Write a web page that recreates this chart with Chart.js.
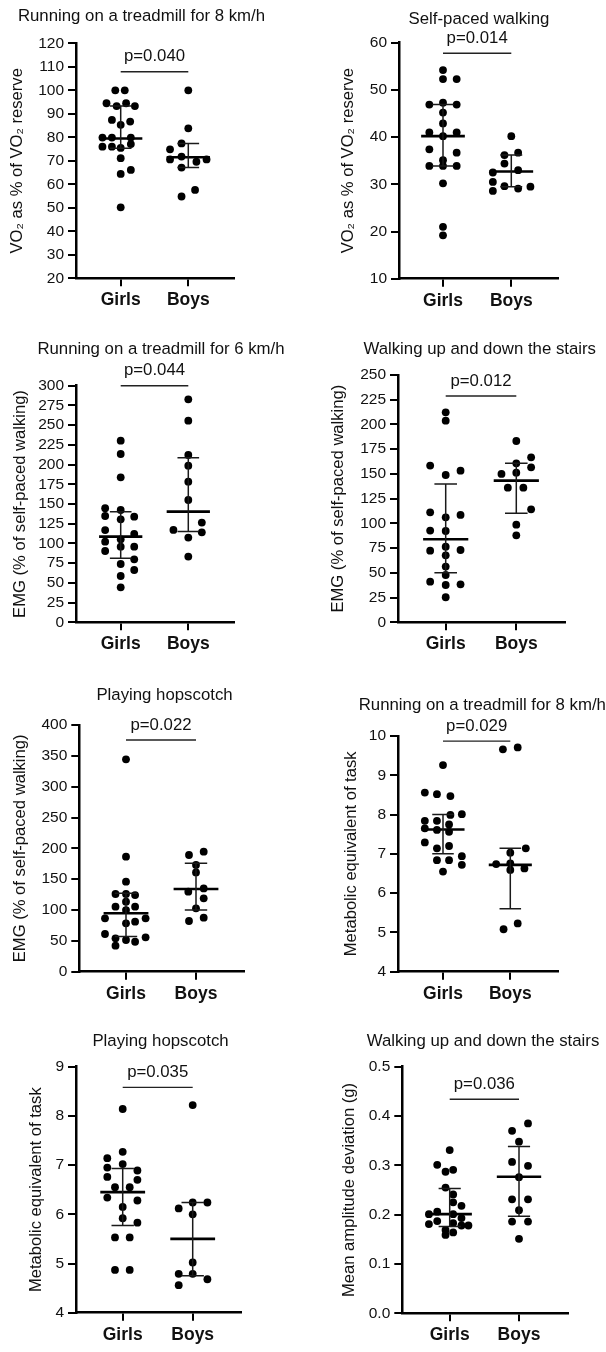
<!DOCTYPE html>
<html>
<head>
<meta charset="utf-8">
<script src="https://cdn.jsdelivr.net/npm/chart.js@4.4.1/dist/chart.umd.min.js"></script>
<style>
html,body{margin:0;padding:0;background:#fff;}
body{width:606px;height:1352px;position:relative;overflow:hidden;}
canvas{position:absolute;}
</style>
</head>
<body>
<canvas id="c1"></canvas><canvas id="c2"></canvas>
<canvas id="c3"></canvas><canvas id="c4"></canvas>
<canvas id="c5"></canvas><canvas id="c6"></canvas>
<canvas id="c7"></canvas><canvas id="c8"></canvas>
<script>
// ---------------- DATA ----------------
const categories = ['Girls', 'Boys'];

const panelTitles = [
  'Running on a treadmill for 8 km/h', 'Self-paced walking',
  'Running on a treadmill for 6 km/h', 'Walking up and down the stairs',
  'Playing hopscotch', 'Running on a treadmill for 8 km/h',
  'Playing hopscotch', 'Walking up and down the stairs'
];
const yTitles = [
  'VO\u2082 as % of VO\u2082 reserve', 'VO\u2082 as % of VO\u2082 reserve',
  'EMG (% of self-paced walking)', 'EMG (% of self-paced walking)',
  'EMG (% of self-paced walking)', 'Metabolic equivalent of task',
  'Metabolic equivalent of task', 'Mean amplitude deviation (g)'
];
const pTexts = ['p=0.040', 'p=0.014', 'p=0.044', 'p=0.012', 'p=0.022', 'p=0.029', 'p=0.035', 'p=0.036'];
const bracketY = [107.9, 57.75, 300, 228.8, 375.7, 9.87, 8.58, 0.434];

// y tick values per panel
const p1Ticks = [20, 30, 40, 50, 60, 70, 80, 90, 100, 110, 120];
const p2Ticks = [10, 20, 30, 40, 50, 60];
const p3Ticks = [0, 25, 50, 75, 100, 125, 150, 175, 200, 225, 250, 275, 300];
const p4Ticks = [0, 25, 50, 75, 100, 125, 150, 175, 200, 225, 250];
const p5Ticks = [0, 50, 100, 150, 200, 250, 300, 350, 400];
const p6Ticks = [4, 5, 6, 7, 8, 9, 10];
const p7Ticks = [4, 5, 6, 7, 8, 9];
const p8Ticks = [0.0, 0.1, 0.2, 0.3, 0.4, 0.5];
const tickDecimals = [0, 0, 0, 0, 0, 0, 0, 1];

// individual values (Y) and horizontal jitter (DX, in category units)
const p1GirlsY  = [100, 100, 94.5, 93.3, 94.5, 93.3, 87.4, 86.7, 85.3, 79.9, 79.9, 79.9, 76.0, 76.0, 75.5, 77.1, 71.1, 64.4, 66.1, 50.2];
const p1GirlsDX = [-0.08, 0.06, -0.21, -0.06, 0.08, 0.21, -0.13, 0.14, 0, -0.27, -0.13, 0.15, -0.27, -0.13, 0, 0.15, 0, 0, 0.15, 0];
const p1BoysY   = [100, 83.8, 77.4, 74.9, 70.6, 71.8, 69.6, 70.6, 67.1, 57.6, 54.8];
const p1BoysDX  = [0, 0, -0.1, -0.27, -0.27, -0.1, 0.12, 0.27, -0.1, 0.1, -0.1];
const p1GirlsStats = [75.3, 79.5, 93.3];
const p1BoysStats  = [67.1, 71.5, 77.4];

const p2GirlsY  = [54.2, 52.3, 52.3, 46.9, 47.3, 46.9, 45.2, 42.9, 41.0, 40.2, 41.0, 37.4, 36.7, 35.1, 33.9, 33.9, 33.9, 30.2, 21.0, 19.2];
const p2GirlsDX = [0, 0, 0.2, -0.2, 0, 0.2, 0, 0, -0.2, 0, 0.2, -0.2, 0.2, 0, -0.2, 0, 0.2, 0, 0, 0];
const p2BoysY   = [40.2, 36.2, 36.7, 34.4, 33.0, 32.5, 30.5, 29.6, 28.6, 29.1, 29.5];
const p2BoysDX  = [0, -0.1, 0.1, -0.1, 0.1, -0.27, -0.27, -0.1, -0.27, 0.1, 0.28];
const p2GirlsStats = [33.9, 40.2, 46.9];
const p2BoysStats  = [29.5, 32.7, 36.2];

const p3GirlsY  = [230.3, 213.4, 183.8, 144.6, 142.4, 134.8, 130.6, 133.9, 117.0, 112.0, 102.2, 105.2, 95.9, 95.9, 90.4, 79.9, 73.9, 66.3, 58.7, 44.4];
const p3GirlsDX = [0, 0, 0, -0.23, 0, -0.23, 0, 0.2, -0.23, 0.2, -0.23, 0, 0, 0.2, -0.23, 0.2, 0, 0.2, 0, 0];
const p3BoysY   = [282.7, 255.6, 212.1, 198.6, 178.3, 155.1, 126.4, 117.1, 114.1, 107.4, 83.3];
const p3BoysDX  = [0, 0, 0, 0, 0, 0, 0.2, -0.22, 0.2, 0, 0];
const p3GirlsStats = [81.1, 108.6, 140.2];
const p3BoysStats  = [115, 140.3, 208.5];

const p4GirlsY  = [212.3, 203.8, 158.4, 148.9, 153.3, 111.2, 106.1, 108.5, 92.7, 92.3, 72.4, 76.5, 73.1, 67.7, 56.3, 47.8, 41.1, 37.7, 38.4, 25.3];
const p4GirlsDX = [0, 0, -0.22, 0, 0.21, -0.22, 0, 0.21, -0.22, 0, -0.22, 0, 0.21, 0, 0, 0, -0.22, 0, 0.21, 0];
const p4BoysY   = [183.3, 166.8, 160.7, 156.7, 150.0, 151.3, 136.1, 136.1, 114.2, 98.7, 87.9];
const p4BoysDX  = [0, 0.21, 0, 0.21, -0.21, 0, -0.12, 0.1, 0.21, 0, 0];
const p4GirlsStats = [50.2, 83.9, 139.8];
const p4BoysStats  = [110.2, 143.2, 160.7];

const p5GirlsY  = [344.3, 186.5, 146.0, 126.0, 126.0, 124.3, 113.5, 105.4, 105.4, 100.0, 86.5, 86.5, 78.4, 81.1, 61.1, 54.1, 51.4, 48.6, 55.7, 42.2];
const p5GirlsDX = [0, 0, 0, -0.15, 0, 0.13, 0, -0.15, 0.13, 0, -0.3, 0.28, 0, 0.13, -0.3, -0.15, 0, 0.13, 0.28, -0.15];
const p5BoysY   = [189.2, 194.6, 173.0, 161.0, 129.7, 135.1, 118.9, 102.7, 82.2, 87.6];
const p5BoysDX  = [-0.1, 0.11, 0, 0, -0.11, 0.11, 0.11, 0, -0.1, 0.11];
const p5GirlsStats = [57, 94.7, 127];
const p5BoysStats  = [100, 134.1, 175.7];

const p6GirlsY  = [9.26, 8.56, 8.52, 8.47, 7.99, 8.01, 7.84, 7.84, 7.75, 7.65, 7.61, 7.56, 7.29, 7.14, 7.20, 6.84, 6.84, 6.94, 6.72, 6.55];
const p6GirlsDX = [0, -0.27, -0.09, 0.11, 0.11, 0.28, -0.27, -0.09, 0.09, -0.27, -0.09, 0.09, -0.27, -0.09, 0.09, -0.09, 0.09, 0.28, 0.28, 0];
const p6BoysY   = [9.66, 9.71, 7.14, 7.03, 6.74, 6.76, 6.59, 6.63, 5.08, 5.23];
const p6BoysDX  = [-0.11, 0.11, 0.23, 0, -0.21, 0, 0, 0.21, -0.1, 0.11];
const p6GirlsStats = [7.0, 7.62, 8.0];
const p6BoysStats  = [5.6, 6.72, 7.14];

const p7GirlsY  = [8.14, 7.14, 7.27, 6.95, 7.02, 6.89, 6.76, 6.70, 6.55, 6.55, 6.34, 6.28, 6.15, 5.92, 5.83, 5.53, 5.53, 4.87, 4.87];
const p7GirlsDX = [0, -0.22, 0, -0.22, 0, 0.21, -0.22, 0.21, -0.11, 0.1, -0.22, 0.21, 0, 0, 0.21, -0.11, 0.1, -0.11, 0.1];
const p7BoysY   = [8.22, 6.12, 6.24, 6.24, 6.0, 5.02, 4.79, 4.79, 4.68, 4.56];
const p7BoysDX  = [0, -0.2, 0, 0.21, 0, 0, -0.2, 0, 0.21, -0.2];
const p7GirlsStats = [5.77, 6.45, 6.93];
const p7BoysStats  = [4.75, 5.5, 6.24];

const p8GirlsY  = [0.331, 0.301, 0.287, 0.291, 0.255, 0.241, 0.225, 0.218, 0.206, 0.201, 0.201, 0.193, 0.181, 0.187, 0.183, 0.178, 0.178, 0.169, 0.164, 0.159];
const p8GirlsDX = [0, -0.18, -0.06, 0.05, -0.06, 0.05, 0.05, 0.17, -0.18, -0.3, 0.05, 0.17, -0.3, -0.18, 0.05, 0.27, 0.17, -0.06, 0.05, -0.06];
const p8BoysY   = [0.370, 0.385, 0.348, 0.307, 0.299, 0.276, 0.231, 0.231, 0.209, 0.186, 0.186, 0.151];
const p8BoysDX  = [-0.1, 0.13, 0, -0.1, 0.13, 0, -0.1, 0.13, 0, -0.1, 0.13, 0];
const p8GirlsStats = [0.176, 0.201, 0.253];
const p8BoysStats  = [0.197, 0.277, 0.338];

// ---------------- LAYOUT (pixels) ----------------
const boxes = [
  {cx:0,   cy:0,    cw:303, ch:315, ax:76,    ae:234,   at:43.3,   ab:278.3,  gx:120.7, bx:188.3, tx:141.5, ty:16,     ytx:17},
  {cx:303, cy:0,    cw:303, ch:315, ax:399,   ae:558,   at:42.7,   ab:278.7,  gx:443,   bx:511.3, tx:479,   ty:19.3,   ytx:348},
  {cx:0,   cy:315,  cw:303, ch:345, ax:76,    ae:234,   at:385.7,  ab:622.3,  gx:120.7, bx:188.3, tx:161,   ty:349.3,  ytx:20},
  {cx:303, cy:315,  cw:303, ch:345, ax:398,   ae:564.7, at:375,    ab:622.3,  gx:445.7, bx:516.3, tx:479.7, ty:349.3,  ytx:338},
  {cx:0,   cy:660,  cw:303, ch:345, ax:79.3,  ae:244.3, at:725,    ab:971.7,  gx:126,   bx:196,   tx:164.5, ty:695,    ytx:20},
  {cx:303, cy:660,  cw:303, ch:345, ax:398,   ae:558,   at:736,    ab:971.7,  gx:443,   bx:510.3, tx:482.3, ty:705,    ytx:351},
  {cx:0,   cy:1005, cw:303, ch:347, ax:76,    ae:240.7, at:1066.7, ab:1312.7, gx:122.7, bx:192.7, tx:160.5, ty:1041.7, ytx:36},
  {cx:303, cy:1005, cw:303, ch:347, ax:402.3, ae:568,   at:1066.7, ab:1313.3, gx:449.7, bx:519,   tx:483,   ty:1041.7, ytx:349.7}
];

const panels = [
  [p1GirlsY, p1GirlsDX, p1BoysY, p1BoysDX, p1GirlsStats, p1BoysStats, p1Ticks],
  [p2GirlsY, p2GirlsDX, p2BoysY, p2BoysDX, p2GirlsStats, p2BoysStats, p2Ticks],
  [p3GirlsY, p3GirlsDX, p3BoysY, p3BoysDX, p3GirlsStats, p3BoysStats, p3Ticks],
  [p4GirlsY, p4GirlsDX, p4BoysY, p4BoysDX, p4GirlsStats, p4BoysStats, p4Ticks],
  [p5GirlsY, p5GirlsDX, p5BoysY, p5BoysDX, p5GirlsStats, p5BoysStats, p5Ticks],
  [p6GirlsY, p6GirlsDX, p6BoysY, p6BoysDX, p6GirlsStats, p6BoysStats, p6Ticks],
  [p7GirlsY, p7GirlsDX, p7BoysY, p7BoysDX, p7GirlsStats, p7BoysStats, p7Ticks],
  [p8GirlsY, p8GirlsDX, p8BoysY, p8BoysDX, p8GirlsStats, p8BoysStats, p8Ticks]
];

// ---------------- RENDER ----------------
const FONT = '"Liberation Sans", Arial, Helvetica, sans-serif';
Chart.defaults.font.family = FONT;
Chart.defaults.color = '#111';

const TITLE_SIZE = 16.8, TICK_SIZE = 15.5, CAT_SIZE = 17.5, YT_SIZE = 16.6;
const MEDIAN_HALF = 0.32, CAP_HALF = 0.16;

const annotPlugin = {
  id: 'annot',
  afterDraw(chart, args, o) {
    const {ctx, scales: {x, y}} = chart;
    ctx.save();
    ctx.fillStyle = '#111';
    ctx.textAlign = 'center';
    ctx.textBaseline = 'middle';
    ctx.font = TITLE_SIZE + 'px ' + FONT;
    ctx.fillText(o.title, o.titleX, o.titleY);
    ctx.fillText(o.pText, x.getPixelForValue(1.5), y.getPixelForValue(o.bracket) - 15);
    ctx.restore();
  }
};

function dots(ys, dxs, c) { return ys.map((v, i) => ({x: c + dxs[i], y: v})); }
function whiskers(c, s) {
  return [
    {x: c - CAP_HALF, y: s[0]}, {x: c + CAP_HALF, y: s[0]}, {x: c, y: null},
    {x: c, y: s[0]}, {x: c, y: s[2]}, {x: c, y: null},
    {x: c - CAP_HALF, y: s[2]}, {x: c + CAP_HALF, y: s[2]}
  ];
}
function lineDs(data, w, col) {
  return {data, showLine: true, pointRadius: 0, borderColor: col, borderWidth: w, spanGaps: false, clip: false, fill: false};
}
function dotDs(data) {
  return {data, showLine: false, pointRadius: 3.9, pointBackgroundColor: '#000', pointBorderWidth: 0, pointBorderColor: '#000', clip: false};
}

panels.forEach((p, i) => {
  const [gY, gDX, bY, bDX, gS, bS, ticks] = p;
  const b = boxes[i];
  const cv = document.getElementById('c' + (i + 1));
  cv.width = b.cw; cv.height = b.ch;
  cv.style.left = b.cx + 'px'; cv.style.top = b.cy + 'px';
  cv.style.width = b.cw + 'px'; cv.style.height = b.ch + 'px';
  const sp = b.bx - b.gx;
  const xMin = 1 - (b.gx - b.ax) / sp;
  const xMax = 2 + (b.ae - b.bx) / sp;
  const dec = tickDecimals[i];
  const yLine = YT_SIZE * 1.2;

  new Chart(cv, {
    type: 'scatter',
    data: {
      datasets: [
        lineDs(whiskers(1, gS), 1.5, '#1a1a1a'),
        lineDs(whiskers(2, bS), 1.5, '#1a1a1a'),
        lineDs([{x: 1 - MEDIAN_HALF, y: gS[1]}, {x: 1 + MEDIAN_HALF, y: gS[1]}], 2.6, '#000'),
        lineDs([{x: 2 - MEDIAN_HALF, y: bS[1]}, {x: 2 + MEDIAN_HALF, y: bS[1]}], 2.6, '#000'),
        lineDs([{x: 1, y: bracketY[i]}, {x: 2, y: bracketY[i]}], 1.4, '#222'),
        dotDs(dots(gY, gDX, 1)),
        dotDs(dots(bY, bDX, 2))
      ]
    },
    options: {
      responsive: false,
      animation: false,
      devicePixelRatio: 1,
      events: [],
      layout: {padding: {top: b.at - b.cy, right: b.cw - (b.ae - b.cx), left: 0, bottom: 0}},
      plugins: {
        legend: {display: false},
        tooltip: {enabled: false},
        annot: {title: panelTitles[i], titleX: b.tx - b.cx, titleY: b.ty - b.cy, pText: pTexts[i], bracket: bracketY[i]}
      },
      scales: {
        x: {
          type: 'linear', min: xMin, max: xMax,
          afterBuildTicks: s => { s.ticks = [{value: 1}, {value: 2}]; },
          afterFit: s => { s.height = b.cy + b.ch - b.ab; },
          ticks: {
            callback: v => categories[Math.round(v) - 1],
            font: {size: CAT_SIZE, weight: 'bold'}, color: '#111', padding: 3.5,
            maxRotation: 0, autoSkip: false
          },
          grid: {display: true, drawOnChartArea: false, drawTicks: true, tickLength: 8, color: '#000', lineWidth: 2},
          border: {display: true, color: '#000', width: 2.5}
        },
        y: {
          type: 'linear', min: ticks[0], max: ticks[ticks.length - 1],
          afterBuildTicks: s => { s.ticks = ticks.map(v => ({value: v})); },
          afterFit: s => { s.width = b.ax - b.cx; },
          ticks: {
            callback: v => v.toFixed(dec),
            font: {size: TICK_SIZE}, color: '#111', padding: 4, autoSkip: false
          },
          grid: {display: true, drawOnChartArea: false, drawTicks: true, tickLength: 8, color: '#000', lineWidth: 2},
          border: {display: true, color: '#000', width: 2.5},
          title: {
            display: true, text: yTitles[i], color: '#111',
            font: {size: YT_SIZE},
            padding: {top: b.ytx - b.cx - yLine / 2, bottom: 0}
          }
        }
      }
    },
    plugins: [annotPlugin]
  });
});
</script>
</body>
</html>
